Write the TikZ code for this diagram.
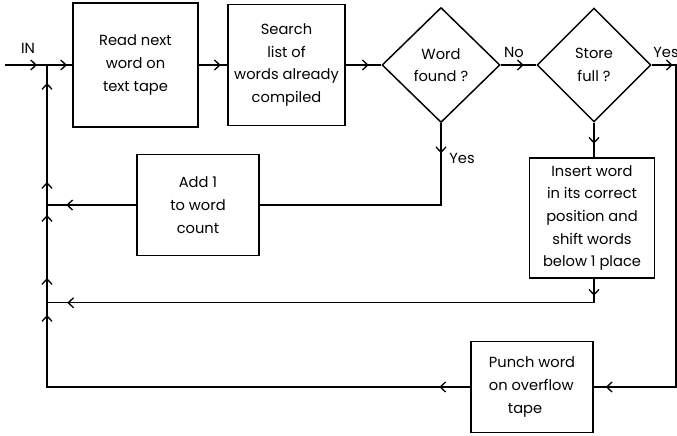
\documentclass[tikz,border=0pt]{standalone}
\usepackage{fontspec}
\setmainfont{Poppins}
\usetikzlibrary{shapes.geometric,arrows.meta,decorations.markings}

\tikzset{
  txt/.style={font=\fontsize{11}{17}\selectfont},
  box/.style={draw, txt, line width=1.1pt, align=center, inner sep=2pt},
  test/.style={draw, txt, diamond, line width=1.1pt, align=center, inner sep=0pt},
  flow/.style={line width=1.1pt},
  heads/.style={postaction={decorate,decoration={markings,#1}}},
}
\newcommand{\flowtip}{\arrow{Straight Barb[length=4pt,width=7.5pt,line width=1pt]}}

\begin{document}
\begin{tikzpicture}[x=0.75pt,y=-0.75pt]
\useasboundingbox (0,0) rectangle (677,435);

% Boxes and tests
\node[box, minimum width=93.75pt, minimum height=93pt] (read) at (135.5,65) {Read next\\word on\\text tape};
\node[box, minimum width=87.75pt, minimum height=90.75pt] (search) at (286.5,65) {Search\\list of\\words already\\compiled};
\node[test, minimum width=88.5pt, minimum height=86.25pt] (found) at (441,65) {Word\\found ?};
\node[test, minimum width=85.5pt, minimum height=85.5pt] (full) at (594,65) {Store\\full ?};
\node[box, minimum width=91.5pt, minimum height=75.75pt] (addone) at (198,205) {Add 1\\to word\\count};
\node[box, minimum width=93.75pt, minimum height=90pt] (insert) at (592,218) {Insert word\\in its correct\\position and\\shift words\\below 1 place};
\node[box, minimum width=91.5pt, minimum height=68.25pt, align=left] (punch) at (532,387) {Punch word\\on overflow\\\hspace{1.3em}tape};

% Labels
\node[txt] (inlbl) at (28,48) {IN};
\node[txt] (nolbl) at (514,52) {No};
\node[txt] (yesfull) at (666,52) {Yes};
\node[txt] (yesfound) at (462,158) {Yes};

% Corners
\coordinate (inlet) at (5,65);
\coordinate (join) at (47,65);
\coordinate (rtop) at (676,65);
\coordinate (rbot) at (676,387);

% Main line
\draw[flow, heads={mark=at position 24pt with {\flowtip}}] (inlet) -- (join);
\draw[flow, heads={mark=at position 15pt with {\flowtip}}] (join) -- (read.west);
\draw[flow, heads={mark=at position 16.5pt with {\flowtip}}] (read.east) -- (search.west);
\draw[flow, heads={mark=at position 17.25pt with {\flowtip}}] (search.east) -- (found.west);
\draw[flow, heads={mark=at position 17.25pt with {\flowtip}}] (found.east) -- (full.west);
\draw[flow, heads={mark=at position 15.75pt with {\flowtip}, mark=at position -9pt with {\flowtip}}]
  (full.east) -- (rtop) -- (rbot) -- (punch.east);

% Word found
\draw[flow, heads={mark=at position 22.5pt with {\flowtip}}] (found.south) |- (addone.east);
\draw[flow, heads={mark=at position 52.5pt with {\flowtip}}] (addone.west) -- (addone.west -| join);

% Store not full
\draw[flow, heads={mark=at position 15.75pt with {\flowtip}}] (full.south) -- (full.south |- insert.north);
\draw[flow, heads={mark=at position 12.75pt with {\flowtip}, mark=at position -15.75pt with {\flowtip}}]
  (full.south |- insert.south) -- ++(0,24) -| (join |- 0,302);

% Return path
\draw[flow, heads={mark=at position 23.25pt with {\flowtip},
  mark=at position -187.5pt with {\flowtip}, mark=at position -159.75pt with {\flowtip},
  mark=at position -112.5pt with {\flowtip}, mark=at position -87.75pt with {\flowtip},
  mark=at position -13.5pt with {\flowtip}}]
  (punch.west) -- (join |- punch.west) -- (join);

\end{tikzpicture}
\end{document}
